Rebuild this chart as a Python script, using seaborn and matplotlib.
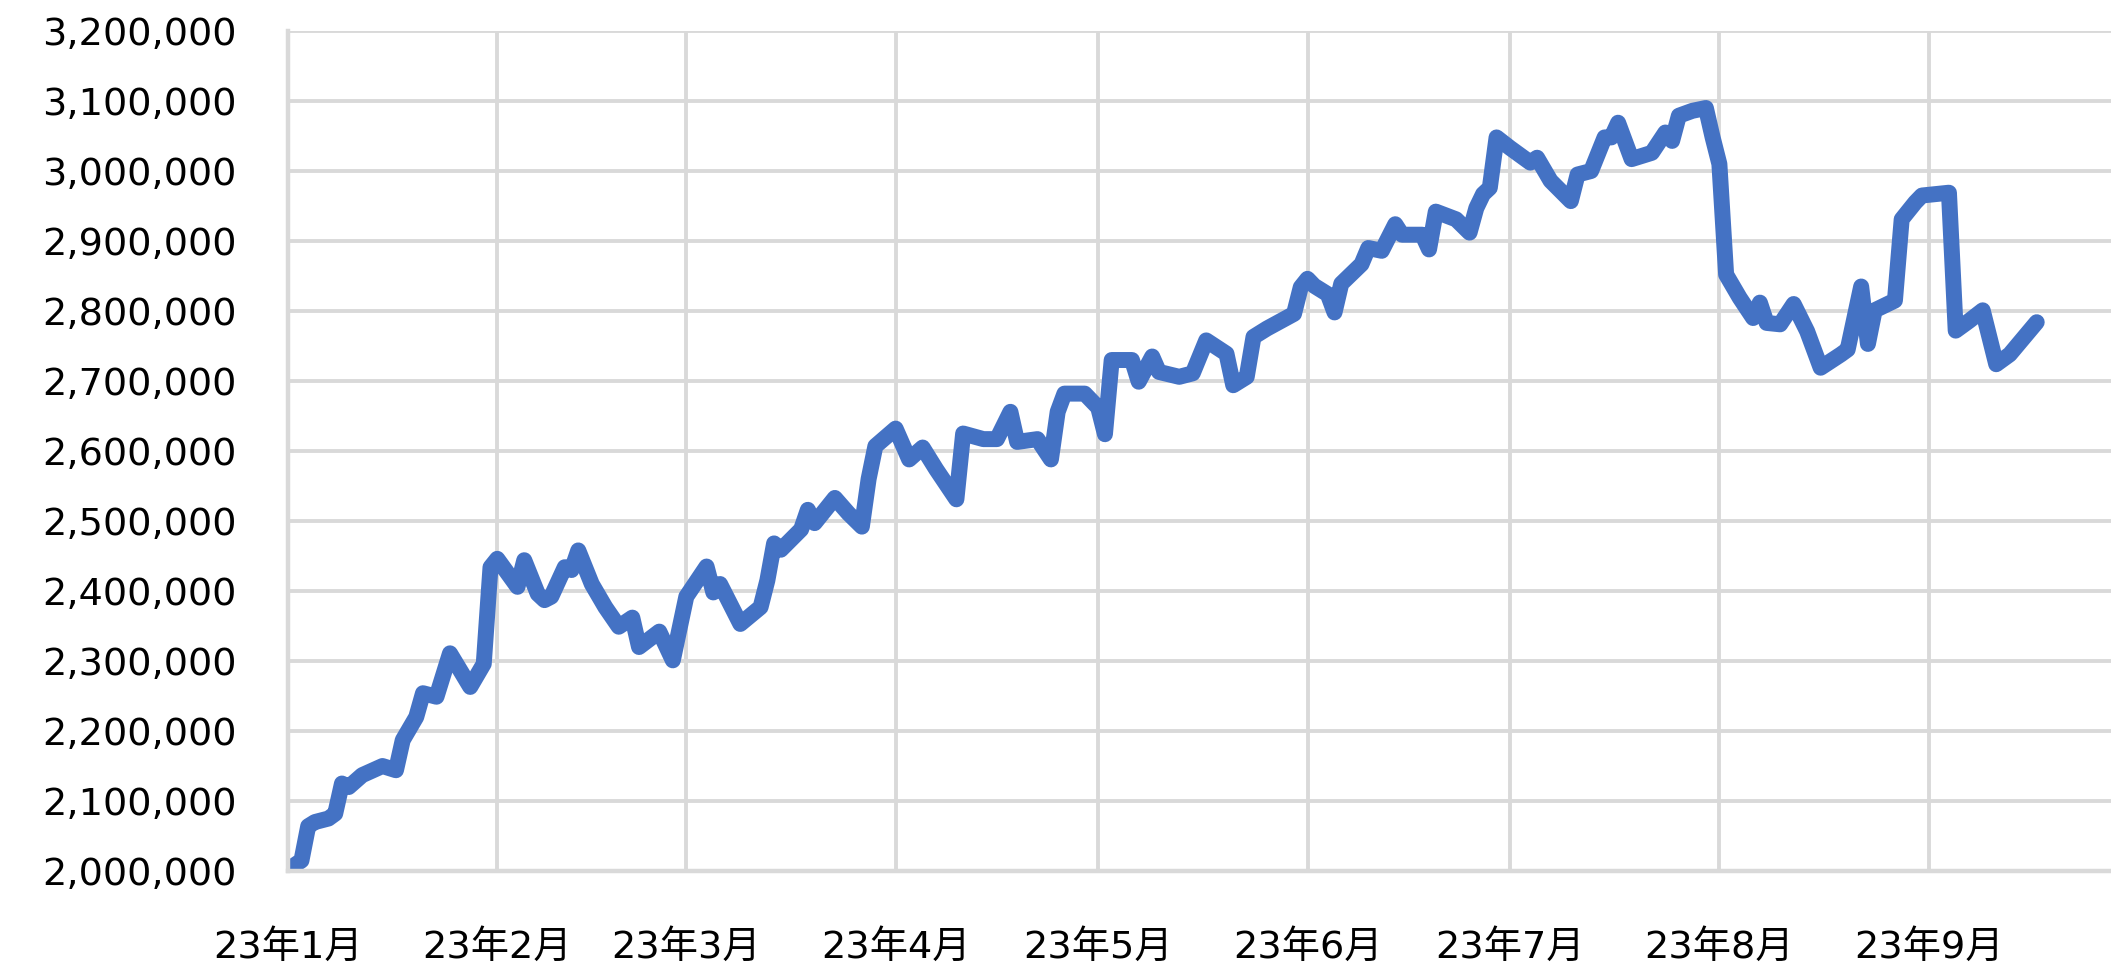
import matplotlib
matplotlib.use("Agg")
import matplotlib.pyplot as plt
import matplotlib.ticker as mticker
import seaborn as sns
import pandas as pd

# Daily asset value, Jan - Sep 2023
dates = [
    "01-01", "01-03", "01-04", "01-05", "01-07", "01-08", "01-09", "01-10", "01-12", "01-15",
    "01-17", "01-18", "01-20", "01-21", "01-23", "01-25", "01-28", "01-30", "01-31", "02-01",
    "02-04", "02-05", "02-07", "02-08", "02-09", "02-11", "02-12", "02-13", "02-15", "02-17",
    "02-19", "02-21", "02-22", "02-25", "02-27", "03-01", "03-04", "03-05", "03-06", "03-09",
    "03-12", "03-13", "03-14", "03-15", "03-18", "03-19", "03-20", "03-23", "03-25", "03-27",
    "03-28", "03-29", "04-01", "04-03", "04-05", "04-07", "04-10", "04-11", "04-14", "04-16",
    "04-18", "04-19", "04-22", "04-24", "04-25", "04-26", "04-29", "05-01", "05-02", "05-03",
    "05-06", "05-07", "05-09", "05-10", "05-13", "05-15", "05-17", "05-20", "05-21", "05-23",
    "05-24", "05-26", "05-30", "05-31", "06-01", "06-02", "06-04", "06-05", "06-06", "06-09",
    "06-10", "06-12", "06-14", "06-15", "06-18", "06-19", "06-20", "06-23", "06-25", "06-26",
    "06-27", "06-28", "06-29", "07-01", "07-04", "07-05", "07-07", "07-10", "07-11", "07-13",
    "07-15", "07-16", "07-17", "07-19", "07-22", "07-24", "07-25", "07-26", "07-28", "07-30",
    "07-31", "08-01", "08-02", "08-04", "08-06", "08-07", "08-08", "08-10", "08-12", "08-14",
    "08-16", "08-19", "08-20", "08-22", "08-23", "08-24", "08-27", "08-28", "08-30", "08-31",
    "09-04", "09-05", "09-07", "09-09", "09-11", "09-13", "09-17",
]
values = [
    2002000, 2015000, 2064000, 2070000, 2075000, 2082000, 2125000, 2120000, 2137000, 2150000,
    2144000, 2187000, 2220000, 2254000, 2249000, 2311000, 2263000, 2296000, 2434000, 2446000,
    2406000, 2444000, 2396000, 2387000, 2392000, 2434000, 2430000, 2458000, 2410000, 2377000,
    2349000, 2362000, 2320000, 2342000, 2301000, 2392000, 2435000, 2398000, 2410000, 2353000,
    2377000, 2415000, 2468000, 2459000, 2488000, 2516000, 2497000, 2533000, 2511000, 2492000,
    2560000, 2607000, 2632000, 2588000, 2605000, 2574000, 2531000, 2625000, 2617000, 2617000,
    2656000, 2613000, 2617000, 2588000, 2656000, 2682000, 2682000, 2662000, 2624000, 2730000,
    2730000, 2699000, 2735000, 2713000, 2706000, 2711000, 2758000, 2739000, 2694000, 2706000,
    2763000, 2775000, 2796000, 2834000, 2846000, 2836000, 2824000, 2798000, 2839000, 2867000,
    2890000, 2886000, 2924000, 2909000, 2909000, 2888000, 2942000, 2931000, 2912000, 2947000,
    2967000, 2976000, 3048000, 3033000, 3012000, 3019000, 2986000, 2957000, 2995000, 3000000,
    3048000, 3048000, 3069000, 3017000, 3026000, 3055000, 3043000, 3079000, 3086000, 3090000,
    3048000, 3010000, 2852000, 2819000, 2790000, 2812000, 2783000, 2781000, 2810000, 2771000,
    2719000, 2738000, 2745000, 2835000, 2753000, 2801000, 2815000, 2931000, 2955000, 2965000,
    2969000, 2772000, 2786000, 2801000, 2724000, 2738000, 2784000,
]

month_ticks = ["2023-01-01", "2023-02-01", "2023-03-01", "2023-04-01", "2023-05-01",
               "2023-06-01", "2023-07-01", "2023-08-01", "2023-09-01"]
month_labels = ["23年1月", "23年2月", "23年3月", "23年4月", "23年5月",
                "23年6月", "23年7月", "23年8月", "23年9月"]
y_ticks = list(range(2000000, 3200001, 100000))

df = pd.DataFrame({"date": pd.to_datetime(["2023-" + d for d in dates]), "value": values})

sns.set_theme(style="white")
plt.rcParams["font.family"] = ["DejaVu Sans", "Noto Sans CJK JP"]

fig = plt.figure(figsize=(21.11, 9.63), dpi=100)
ax = fig.add_axes([0.1364, 0.0955, 0.8636, 0.8723])

sns.lineplot(data=df, x="date", y="value", color="#4472C4", linewidth=11.5, ax=ax,
             solid_joinstyle="round", solid_capstyle="round")

ax.set_xlim(pd.Timestamp("2023-01-01"), pd.Timestamp("2023-09-28"))
ax.set_ylim(2000000, 3200000)
ax.set_xticks(pd.to_datetime(month_ticks))
ax.set_xticklabels(month_labels)
ax.set_yticks(y_ticks)
ax.yaxis.set_major_formatter(mticker.StrMethodFormatter("{x:,.0f}"))

ax.grid(True, color="#D9D9D9", linewidth=2.8)
ax.set_axisbelow(True)
for side in ["top", "right"]:
    ax.spines[side].set_visible(False)
for side in ["left", "bottom"]:
    ax.spines[side].set_color("#D9D9D9")
    ax.spines[side].set_linewidth(3.2)

ax.tick_params(axis="y", length=0, pad=37, labelsize=27.5, labelcolor="black")
ax.tick_params(axis="x", length=0, pad=42, labelsize=27.5, labelcolor="black")
ax.set_xlabel("")
ax.set_ylabel("")

fig.savefig("out.png", dpi=100)
